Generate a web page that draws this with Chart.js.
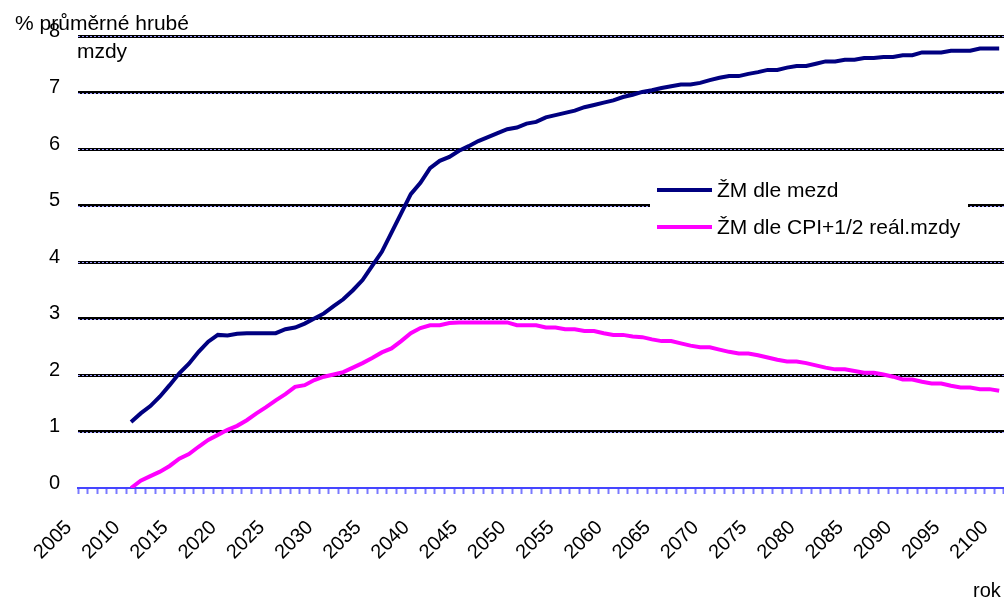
<!DOCTYPE html>
<html>
<head>
<meta charset="utf-8">
<script src="https://cdn.jsdelivr.net/npm/chart.js"></script>
<style>
    html, body { margin: 0; padding: 0; background: #fff; overflow: hidden; }
    #graf { display: block; }
</style>
</head>
<body>
<canvas id="graf" width="1004" height="598"></canvas>
<script>
var roky = [
    2005, 2006, 2007, 2008, 2009, 2010, 2011, 2012, 2013, 2014, 2015, 2016,
    2017, 2018, 2019, 2020, 2021, 2022, 2023, 2024, 2025, 2026, 2027, 2028,
    2029, 2030, 2031, 2032, 2033, 2034, 2035, 2036, 2037, 2038, 2039, 2040,
    2041, 2042, 2043, 2044, 2045, 2046, 2047, 2048, 2049, 2050, 2051, 2052,
    2053, 2054, 2055, 2056, 2057, 2058, 2059, 2060, 2061, 2062, 2063, 2064,
    2065, 2066, 2067, 2068, 2069, 2070, 2071, 2072, 2073, 2074, 2075, 2076,
    2077, 2078, 2079, 2080, 2081, 2082, 2083, 2084, 2085, 2086, 2087, 2088,
    2089, 2090, 2091, 2092, 2093, 2094, 2095, 2096, 2097, 2098, 2099, 2100
];

// ŽM dle mezd (% průměrné hrubé mzdy)
var zmMezd = [
    null, null, null, null, null,
    1.17, 1.32, 1.45, 1.62, 1.82, 2.03, 2.20, 2.41, 2.59, 2.71,
    2.70, 2.73, 2.74, 2.74, 2.74, 2.74, 2.81, 2.84, 2.91, 3.00,
    3.09, 3.22, 3.34, 3.50, 3.68, 3.93, 4.18, 4.52, 4.86, 5.20,
    5.40, 5.66, 5.79, 5.86, 5.97, 6.05, 6.14, 6.21, 6.28, 6.35,
    6.38, 6.45, 6.48, 6.56, 6.60, 6.64, 6.68, 6.74, 6.78, 6.82,
    6.86, 6.92, 6.96, 7.01, 7.04, 7.08, 7.11, 7.14, 7.14, 7.17,
    7.22, 7.26, 7.29, 7.29, 7.33, 7.36, 7.40, 7.40, 7.44, 7.47,
    7.47, 7.51, 7.55, 7.55, 7.58, 7.58, 7.61, 7.61, 7.63, 7.63,
    7.66, 7.66, 7.71, 7.71, 7.71, 7.74, 7.74, 7.74, 7.78, 7.78,
    7.78
];

// ŽM dle CPI+1/2 reál.mzdy
var zmCpi = [
    null, null, null, null, null,
    0.00, 0.13, 0.21, 0.29, 0.39, 0.52, 0.60, 0.73, 0.85, 0.94,
    1.03, 1.10, 1.20, 1.32, 1.43, 1.55, 1.66, 1.79, 1.82, 1.91,
    1.97, 2.01, 2.05, 2.13, 2.21, 2.30, 2.40, 2.47, 2.60, 2.74,
    2.83, 2.88, 2.88, 2.92, 2.93, 2.93, 2.93, 2.93, 2.93, 2.93,
    2.88, 2.88, 2.88, 2.84, 2.84, 2.81, 2.81, 2.78, 2.78, 2.74,
    2.71, 2.71, 2.68, 2.67, 2.63, 2.60, 2.60, 2.56, 2.52, 2.49,
    2.49, 2.45, 2.41, 2.38, 2.38, 2.35, 2.31, 2.27, 2.24, 2.24,
    2.21, 2.17, 2.13, 2.10, 2.10, 2.07, 2.04, 2.04, 2.01, 1.97,
    1.92, 1.92, 1.88, 1.85, 1.85, 1.81, 1.78, 1.78, 1.75, 1.75,
    1.72
];

var osaY = [0, 1, 2, 3, 4, 5, 6, 7, 8];
var popisY = ['% průměrné hrubé', 'mzdy'];
var popisX = 'rok';
var nazvy = ['ŽM dle mezd', 'ŽM dle CPI+1/2 reál.mzdy'];

var pismo = 'Arial, "Liberation Sans", sans-serif';

// dvojita mrizka - cerna + modra teckovana uprostred
var mrizka = {
    id: 'mrizka',
    beforeDatasetsDraw: function(chart) {
        var c = chart.ctx, a = chart.chartArea, y = chart.scales.y;
        c.save();
        c.strokeStyle = '#9a9aff';
        c.lineWidth = 1;
        c.setLineDash([2, 2]);
        osaY.forEach(function(v) {
            if (v === 0) return;
            var py = Math.round(y.getPixelForValue(v)) + 0.5;
            c.beginPath();
            c.moveTo(a.left, py);
            c.lineTo(a.right, py);
            c.stroke();
        });
        c.restore();
    }
};

var popisky = {
    id: 'popisky',
    afterDraw: function(chart) {
        var c = chart.ctx;
        c.save();
        c.fillStyle = '#000';
        c.font = '21px ' + pismo;
        c.textAlign = 'center';
        c.textBaseline = 'alphabetic';
        c.fillText(popisY[0], 102, 30);
        c.fillText(popisY[1], 102, 58);
        c.font = '20px ' + pismo;
        c.textAlign = 'left';
        c.fillText(popisX, 973, 597);

        // legenda
        c.font = '21px ' + pismo;
        c.fillStyle = '#fff';
        c.fillRect(650, 168, 318, 80);
        chart.data.datasets.forEach(function(ds, i) {
            var ly = 190 + i * 37;
            c.strokeStyle = ds.borderColor;
            c.lineWidth = 4;
            c.beginPath();
            c.moveTo(657, ly);
            c.lineTo(712, ly);
            c.stroke();
            c.fillStyle = '#000';
            c.textBaseline = 'middle';
            c.fillText(ds.label, 717, ly + 1);
        });
        c.restore();
    }
};

var ctx = document.getElementById('graf');
var graf = new Chart(ctx, {
    type: 'line',
    data: {
        labels: roky,
        datasets: [{
                label: nazvy[0],
                data: zmMezd,
                borderColor: '#000080',
                borderWidth: 4,
                pointRadius: 0,
                tension: 0,
                fill: false
            },
            {
                label: nazvy[1],
                data: zmCpi,
                borderColor: '#ff00ff',
                borderWidth: 4,
                pointRadius: 0,
                tension: 0,
                fill: false
            }
        ]
    },
    options: {
        responsive: false,
        animation: false,
        devicePixelRatio: 1,
        layout: { padding: { top: 36, left: 0, right: 0, bottom: 0 } },
        plugins: {
            legend: { display: false },
            tooltip: { enabled: false }
        },
        scales: {
            x: {
                type: 'category',
                offset: true,
                afterFit: function(s) {
                    s.height = 110;
                    s.paddingLeft = 0;
                    s.paddingRight = 0;
                },
                border: { display: true, color: '#4646ff', width: 2 },
                grid: {
                    offset: true,
                    drawOnChartArea: false,
                    drawTicks: true,
                    tickLength: 6,
                    tickColor: '#7a7aff',
                    tickWidth: 2
                },
                ticks: {
                    autoSkip: false,
                    minRotation: 45,
                    maxRotation: 45,
                    padding: 22,
                    labelOffset: -14,
                    color: '#000',
                    font: { family: pismo, size: 20 },
                    callback: function(val, i) {
                        var r = roky[i];
                        return r % 5 === 0 ? String(r) : '';
                    }
                }
            },
            y: {
                min: 0,
                max: 8,
                afterFit: function(s) {
                    s.width = 78;
                    s.paddingTop = 0;
                    s.paddingBottom = 0;
                },
                border: { display: false },
                grid: {
                    drawTicks: false,
                    lineWidth: 3,
                    color: function(c) {
                        return c.tick && c.tick.value === 0 ? 'rgba(0,0,0,0)' : '#000';
                    }
                },
                ticks: {
                    stepSize: 1,
                    padding: 18,
                    labelOffset: -5,
                    color: '#000',
                    font: { family: pismo, size: 20 }
                }
            }
        }
    },
    plugins: [mrizka, popisky]
});
</script>
</body>
</html>
